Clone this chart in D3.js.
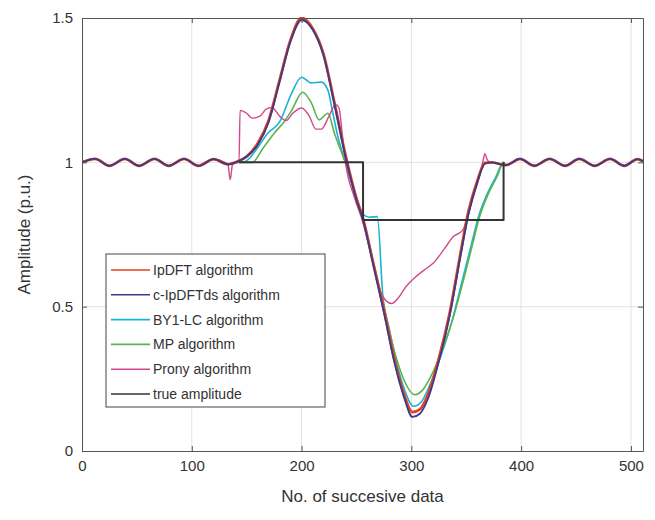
<!DOCTYPE html>
<meta charset="utf-8">
<style>
    body { margin: 0; background: #fff; }
    svg text { font-family: "Liberation Sans", Arial, sans-serif; fill: #333; }
    .grid line { stroke: #e2e2e2; stroke-width: 1; }
    .axis path, .axis line { stroke: #555; }
    .curve { fill: none; stroke-linejoin: round; }
</style>
<svg width="655" height="520"></svg>
<script src="https://cdn.jsdelivr.net/npm/d3@7"></script>
<script>

    // tick labels
    var xTicks = [0, 100, 200, 300, 400, 500];
    var yTicks = [0, 0.5, 1, 1.5];

    // legend entries
    var seriesNames = ["IpDFT algorithm", "c-IpDFTds algorithm", "BY1-LC algorithm",
        "MP algorithm", "Prony algorithm", "true amplitude"];
    var seriesColors = ["#e2431e", "#3c3a8a", "#1cb2d2", "#58b54e", "#cf4a8e", "#333333"];
    var seriesWidths = [2.8, 1.8, 1.6, 1.6, 1.4, 2];
    // order in which the paths are stacked (index into the arrays above)
    var drawOrder = [2, 3, 4, 0, 1, 5];

    // steady part before / after the disturbance (shared by all estimators)
    var steadyLeftX = [0, 12, 25, 39, 52, 66, 79, 93, 106, 120, 133];
    var steadyLeftY = [1.0, 1.012, 0.988, 1.012, 0.988, 1.012, 0.988, 1.012, 0.988, 1.011, 0.993];
    var steadyRightX = [373, 386, 399, 412, 426, 440, 453, 467, 481, 494, 506, 511];
    var steadyRightY = [1.0, 0.99, 1.012, 0.988, 1.012, 0.988, 1.012, 0.988, 1.012, 0.988, 1.011, 1.004];

    // transition parts
    var ipdftX = [140, 150, 160, 170, 180, 190, 200, 210, 220, 230, 240, 250, 256, 265, 275, 285, 293, 301, 308, 315, 325, 335, 345, 352, 360, 367];
    var ipdftY = [1.0, 1.02, 1.065, 1.145, 1.285, 1.425, 1.5, 1.465, 1.375, 1.205, 1.025, 0.875, 0.805, 0.655, 0.49, 0.31, 0.2, 0.135, 0.145, 0.195, 0.32, 0.48, 0.69, 0.83, 0.935, 0.998];

    var cIpdftX = [140, 150, 160, 170, 180, 190, 200, 210, 220, 230, 240, 250, 256, 265, 275, 285, 293, 301, 308, 315, 325, 335, 345, 352, 360, 367];
    var cIpdftY = [1.0, 1.02, 1.06, 1.14, 1.28, 1.42, 1.493, 1.46, 1.37, 1.2, 1.02, 0.87, 0.8, 0.65, 0.48, 0.3, 0.19, 0.118, 0.13, 0.18, 0.31, 0.47, 0.68, 0.82, 0.93, 0.995];

    var by1X = [140, 148, 158, 169, 180, 191, 200, 209, 218, 224, 228, 233, 240, 248, 256, 262, 269, 274, 280, 287, 294, 302, 309, 317, 327, 337, 347, 355, 361, 369, 377, 384];
    var by1Y = [1.0, 1.002, 1.04, 1.1, 1.14, 1.24, 1.295, 1.275, 1.278, 1.25, 1.18, 1.09, 1.0, 0.9, 0.82, 0.81, 0.812, 0.54, 0.42, 0.3, 0.21, 0.155, 0.17, 0.23, 0.33, 0.45, 0.6, 0.72, 0.81, 0.89, 0.95, 1.0];

    var mpX = [140, 155, 165, 176, 184, 191, 201, 209, 216, 224, 230, 240, 248, 256, 265, 275, 285, 294, 303, 310, 318, 328, 338, 348, 356, 362, 370, 378, 384];
    var mpY = [1.0, 1.0, 1.05, 1.105, 1.14, 1.18, 1.243, 1.205, 1.147, 1.17, 1.1, 0.997, 0.9, 0.8, 0.66, 0.5, 0.34, 0.24, 0.195, 0.21, 0.26, 0.35, 0.46, 0.6, 0.72, 0.81, 0.89, 0.95, 1.0];

    var pronyX = [130, 133, 135, 137, 140, 143, 144, 150, 155, 162, 168, 173, 180, 186, 192, 200, 207, 213, 218, 225, 231, 234, 237, 240, 248, 256, 262, 266, 270, 275, 282, 288, 295, 303, 311, 320, 330, 338, 347, 353, 358, 362, 365, 367, 369, 372];
    var pronyY = [1.0, 0.99, 0.94, 0.99, 1.0, 1.0, 1.18, 1.17, 1.153, 1.16, 1.185, 1.19, 1.16, 1.145, 1.17, 1.188, 1.16, 1.115, 1.115, 1.16, 1.2, 1.19, 1.1, 1.0, 0.88, 0.79, 0.7, 0.64, 0.57, 0.53, 0.511, 0.53, 0.569, 0.6, 0.625, 0.651, 0.7, 0.742, 0.766, 0.835, 0.9, 0.95, 1.0, 1.03, 1.01, 1.0];

    // true amplitude (step), only drawn over the disturbance
    var trueX = [143, 256, 256, 384, 384];
    var trueY = [1, 1, 0.8, 0.8, 1];

    var svg = d3.select("svg");
    var plotLeft = 82, plotRight = 643, plotTop = 18, plotBottom = 451;

    var x = d3.scaleLinear().domain([0, 511]).range([plotLeft, plotRight]);
    var y = d3.scaleLinear().domain([0, 1.5]).range([plotBottom, plotTop]);

    function zipPts(xs, ys) {
        return xs.map(function (v, i) { return [v, ys[i]]; });
    }

    // joins the shared steady parts around a transition
    function withSteady(xs, ys) {
        var first = xs[0], last = xs[xs.length - 1];
        var a = zipPts(steadyLeftX, steadyLeftY).filter(function (p) { return p[0] < first; });
        var b = zipPts(steadyRightX, steadyRightY).filter(function (p) { return p[0] > last; });
        return a.concat(zipPts(xs, ys), b);
    }

    var seriesData = [
        withSteady(ipdftX, ipdftY),
        withSteady(cIpdftX, cIpdftY),
        withSteady(by1X, by1Y),
        withSteady(mpX, mpY),
        withSteady(pronyX, pronyY),
        zipPts(trueX, trueY)
    ];

    //grid
    var grid = svg.append("g").attr("class", "grid");
    grid.selectAll("line.v")
        .data(xTicks.filter(function (d) { return d > 0; }))
        .enter().append("line")
        .attr("x1", function (d) { return x(d); }).attr("x2", function (d) { return x(d); })
        .attr("y1", plotTop).attr("y2", plotBottom);
    grid.selectAll("line.h")
        .data(yTicks.filter(function (d) { return d > 0 && d < 1.5; }))
        .enter().append("line")
        .attr("x1", plotLeft).attr("x2", plotRight)
        .attr("y1", function (d) { return y(d); }).attr("y2", function (d) { return y(d); });

    //curves
    svg.append("clipPath").attr("id", "plotclip")
        .append("rect").attr("x", plotLeft).attr("y", plotTop - 1)
        .attr("width", plotRight - plotLeft).attr("height", plotBottom - plotTop + 1);

    var smooth = d3.line()
        .x(function (d) { return x(d[0]); })
        .y(function (d) { return y(d[1]); })
        .curve(d3.curveMonotoneX);
    var straight = d3.line()
        .x(function (d) { return x(d[0]); })
        .y(function (d) { return y(d[1]); });

    svg.append("g").attr("clip-path", "url(#plotclip)")
        .selectAll("path")
        .data(drawOrder)
        .enter().append("path")
        .attr("class", "curve")
        .attr("stroke", function (k) { return seriesColors[k]; })
        .attr("stroke-width", function (k) { return seriesWidths[k]; })
        .attr("d", function (k) { return k === 5 ? straight(seriesData[k]) : smooth(seriesData[k]); });

    //axes, ticks pointing inward
    svg.append("g").attr("class", "axis")
        .attr("transform", "translate(0," + plotBottom + ")")
        .call(d3.axisBottom(x).tickValues(xTicks).tickSize(-5).tickSizeOuter(0).tickPadding(9))
        .call(function (g) { g.selectAll("text").style("font-size", "15px"); });
    svg.append("g").attr("class", "axis")
        .attr("transform", "translate(" + plotLeft + ",0)")
        .call(d3.axisLeft(y).tickValues(yTicks).tickFormat(d3.format("~g")).tickSize(-5).tickSizeOuter(0).tickPadding(9))
        .call(function (g) { g.selectAll("text").style("font-size", "15px"); });
    svg.append("g").attr("class", "axis")
        .attr("transform", "translate(0," + plotTop + ")")
        .call(d3.axisTop(x).tickValues(xTicks).tickSize(-5).tickSizeOuter(0).tickFormat(""));
    svg.append("g").attr("class", "axis")
        .attr("transform", "translate(" + plotRight + ",0)")
        .call(d3.axisRight(y).tickValues(yTicks).tickSize(-5).tickSizeOuter(0).tickFormat(""));

    svg.append("text")
        .attr("x", (plotLeft + plotRight) / 2).attr("y", 502)
        .attr("text-anchor", "middle")
        .style("font-size", "17px")
        .text("No. of succesive data");
    svg.append("text")
        .attr("transform", "translate(30," + ((plotTop + plotBottom) / 2) + ") rotate(-90)")
        .attr("text-anchor", "middle")
        .style("font-size", "17px")
        .text("Amplitude (p.u.)");

    //legend
    var legend = svg.append("g").attr("transform", "translate(106,254)");
    legend.append("rect")
        .attr("width", 219).attr("height", 153)
        .attr("fill", "#fff").attr("stroke", "#444").attr("stroke-width", 1);
    var item = legend.selectAll("g.item")
        .data(seriesNames)
        .enter().append("g")
        .attr("transform", function (d, i) { return "translate(0," + (16 + i * 24.8) + ")"; });
    item.append("line")
        .attr("x1", 5).attr("x2", 44)
        .attr("stroke", function (d, i) { return seriesColors[i]; })
        .attr("stroke-width", 1.6);
    item.append("text")
        .attr("x", 47).attr("dy", "0.35em")
        .style("font-size", "14px")
        .text(function (d) { return d; });

</script>
